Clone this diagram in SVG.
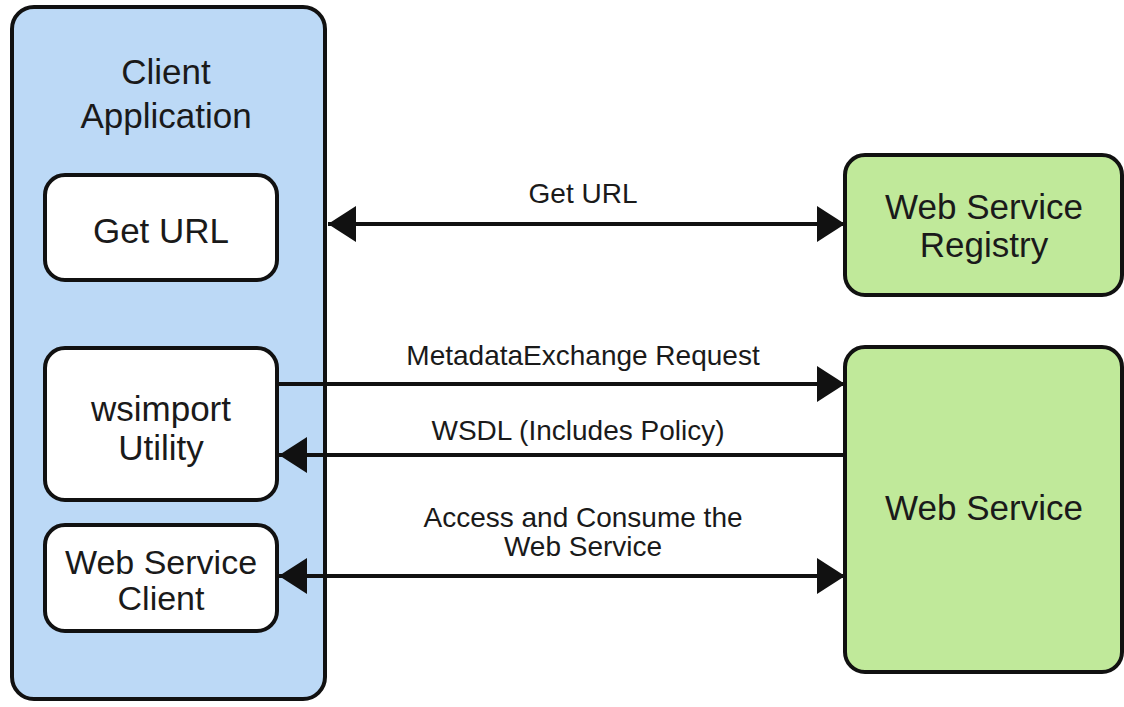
<svg xmlns="http://www.w3.org/2000/svg" width="1124" height="707" viewBox="0 0 1124 707">
<style>
.box{stroke:#111;stroke-width:4}
.blue{fill:#bcd9f6}
.white{fill:#fff}
.green{fill:#c0e99a}
text{font-family:"Liberation Sans",Arial,sans-serif;fill:#1a1a1a;text-anchor:middle}
.big{font-size:35px}
.lbl{font-size:28px}
.conn{stroke:#111;stroke-width:4;fill:none}
</style>
<defs>
<marker id="ah" markerUnits="userSpaceOnUse" markerWidth="30" markerHeight="36" refX="28" refY="18" orient="auto-start-reverse">
<path d="M0,0 L28,18 L0,36 Z" fill="#111"/>
</marker>
</defs>
<rect width="1124" height="707" fill="#fff"/>
<g id="client-app">
<rect class="box blue" x="12" y="7" width="313" height="692" rx="22"/>
<text class="big" x="166" y="84">Client</text>
<text class="big" x="166" y="128">Application</text>
</g>
<g id="get-url">
<rect class="box white" x="45" y="175" width="232" height="105" rx="20"/>
<text class="big" x="161" y="243">Get URL</text>
</g>
<g id="wsimport">
<rect class="box white" x="45" y="348" width="232" height="152" rx="20"/>
<text class="big" x="161" y="421">wsimport</text>
<text class="big" x="161" y="460">Utility</text>
</g>
<g id="ws-client">
<rect class="box white" x="45" y="525" width="232" height="106" rx="20"/>
<text class="big" x="161" y="574" style="font-size:34px">Web Service</text>
<text class="big" x="161" y="610" style="font-size:34px">Client</text>
</g>
<g id="registry">
<rect class="box green" x="845" y="155" width="277" height="140" rx="20"/>
<text class="big" x="984" y="219">Web Service</text>
<text class="big" x="984" y="257">Registry</text>
</g>
<g id="web-service">
<rect class="box green" x="845" y="347" width="277" height="325" rx="20"/>
<text class="big" x="984" y="520">Web Service</text>
</g>
<g id="connectors">
<line class="conn" x1="328" y1="224" x2="845" y2="224" marker-start="url(#ah)" marker-end="url(#ah)"/>
<text class="lbl" x="583" y="203">Get URL</text>
<line class="conn" x1="277" y1="384" x2="845" y2="384" marker-end="url(#ah)"/>
<text class="lbl" x="583" y="365">MetadataExchange Request</text>
<line class="conn" x1="845" y1="455" x2="279" y2="455" marker-end="url(#ah)"/>
<text class="lbl" x="578" y="440">WSDL (Includes Policy)</text>
<line class="conn" x1="279" y1="576" x2="845" y2="576" marker-start="url(#ah)" marker-end="url(#ah)"/>
<text class="lbl" x="583" y="527">Access and Consume the</text>
<text class="lbl" x="583" y="556">Web Service</text>
</g>
</svg>
